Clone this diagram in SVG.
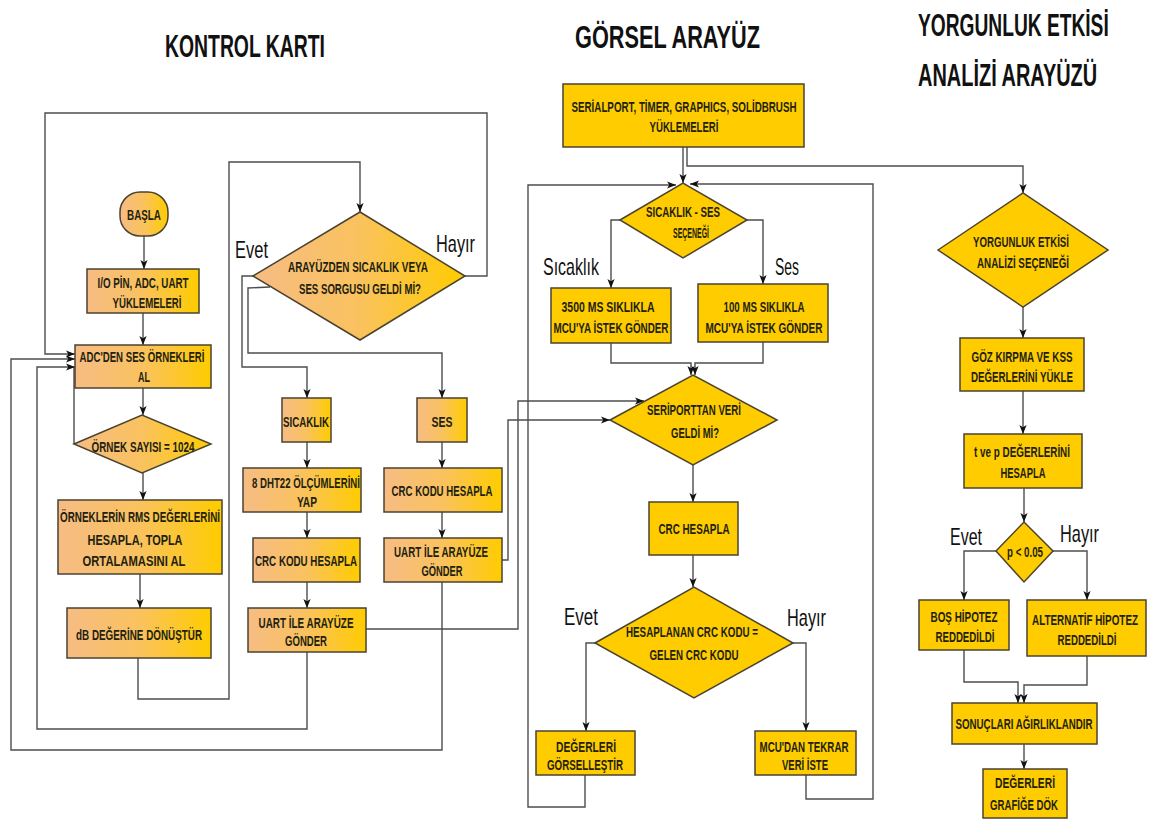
<svg xmlns="http://www.w3.org/2000/svg" width="1153" height="821" viewBox="0 0 1153 821">
<defs>
<linearGradient id="gL" x1="0" y1="0" x2="1" y2="0">
<stop offset="0" stop-color="#F6BC84"/>
<stop offset="0.5" stop-color="#FAC25E"/>
<stop offset="1" stop-color="#FFCC00"/>
</linearGradient>
<marker id="ah" viewBox="0 0 10 10" refX="10" refY="5" markerWidth="9" markerHeight="9" markerUnits="userSpaceOnUse" orient="auto">
<path d="M0,1 L10,5 L0,9 L2.5,5 z" fill="#111"/>
</marker>
<style>
.g{fill:url(#gL);stroke:#4a4330;stroke-width:1.5}
.y{fill:#FFCC00;stroke:#4a4330;stroke-width:1.5}
.t{font-family:"Liberation Sans",Arial,sans-serif;font-weight:bold;font-size:15.5px;fill:#231f10;text-anchor:middle}
.c{fill:none;stroke:#4d4d4d;stroke-width:1.4}
.a{marker-end:url(#ah)}
.lb{font-family:"Liberation Sans",Arial,sans-serif;font-size:23px;fill:#111}
.tt{font-family:"Liberation Sans",Arial,sans-serif;font-weight:bold;font-size:31px;fill:#111}
</style>
</defs>
<rect width="1153" height="821" fill="#fff"/>

<g id="titles">
<text class="tt" transform="translate(165,57) scale(0.64,1)" textLength="250" lengthAdjust="spacingAndGlyphs">KONTROL KARTI</text>
<text class="tt" transform="translate(575,48) scale(0.64,1)" textLength="289" lengthAdjust="spacingAndGlyphs">GÖRSEL ARAYÜZ</text>
<text class="tt" transform="translate(918,36) scale(0.64,1)" textLength="298" lengthAdjust="spacingAndGlyphs">YORGUNLUK ETKİSİ</text>
<text class="tt" transform="translate(918,86) scale(0.64,1)" textLength="280" lengthAdjust="spacingAndGlyphs">ANALİZİ ARAYÜZÜ</text>
</g>

<g id="connectors">
<polyline class="c a" points="144,236 144,269"/>
<polyline class="c a" points="143,313 143,345"/>
<polyline class="c a" points="143,388 143,415"/>
<polyline class="c a" points="143,473 143,500"/>
<polyline class="c a" points="140,574 140,608"/>
<polyline class="c a" points="138,658 138,699 229,699 229,162 360,162 360,212"/>
<polyline class="c" points="74,444 74,367"/>
<polyline class="c a" points="465,276 487,276 487,113 45,113 45,354 75,354"/>
<polyline class="c a" points="253,276 242,276 242,367 307,367 307,398"/>
<polyline class="c a" points="270,287 248,288 248,353 442,353 442,398"/>
<polyline class="c a" points="307,442 307,468"/>
<polyline class="c a" points="307,512 307,538"/>
<polyline class="c a" points="307,582 307,608"/>
<polyline class="c a" points="442,442 442,468"/>
<polyline class="c a" points="442,512 442,538"/>
<polyline class="c a" points="307,652 307,729 37,729 37,367 75,367"/>
<polyline class="c a" points="442,582 442,750 11,750 11,359 75,359"/>
<polyline class="c a" points="366,629 518,629 518,401 644,401"/>
<polyline class="c a" points="502,560 508,560 508,420 610,420"/>
<polyline class="c a" points="683,147 683,183"/>
<polyline class="c a" points="687,147 687,166 1023,166 1023,193"/>
<polyline class="c a" points="620,220 611,220 611,288"/>
<polyline class="c a" points="747,220 763,220 763,284"/>
<polyline class="c a" points="611,343 611,363 691,363 691,375"/>
<polyline class="c a" points="763,342 763,363 695,363 695,375"/>
<polyline class="c a" points="693,465 693,502"/>
<polyline class="c a" points="693,555 693,587"/>
<polyline class="c a" points="595,643 586,643 586,731"/>
<polyline class="c a" points="793,643 806,643 806,731"/>
<polyline class="c a" points="585,775 585,807 528,807 528,185 676,185"/>
<polyline class="c a" points="806,775 806,799 873,799 873,184 690,184"/>
<polyline class="c a" points="1023,307 1023,338"/>
<polyline class="c a" points="1023,391 1023,434"/>
<polyline class="c a" points="1024,488 1024,522"/>
<polyline class="c a" points="996,551 964,551 964,600"/>
<polyline class="c a" points="1053,551 1087,551 1087,600"/>
<polyline class="c a" points="964,650 964,682 1018,682 1018,703"/>
<polyline class="c a" points="1087,656 1087,685 1024,685 1024,703"/>
<polyline class="c a" points="1024,744 1024,769"/>
</g>

<g id="n_basla"><rect class="g" x="120" y="192" width="48" height="44" rx="20"/>
<text class="t" transform="translate(144,220) scale(0.66,1)" textLength="51.5" lengthAdjust="spacingAndGlyphs">BAŞLA</text></g>
<g id="n_io"><rect class="g" x="87" y="269" width="112" height="44"/>
<text class="t" transform="translate(143,288) scale(0.66,1)" textLength="137.9" lengthAdjust="spacingAndGlyphs">I/O PİN, ADC, UART</text>
<text class="t" transform="translate(147,308) scale(0.66,1)" textLength="104.5" lengthAdjust="spacingAndGlyphs">YÜKLEMELERİ</text></g>
<g id="n_adc"><rect class="g" x="75" y="345" width="136" height="43"/>
<text class="t" transform="translate(142,362) scale(0.66,1)" textLength="189.4" lengthAdjust="spacingAndGlyphs">ADC'DEN SES ÖRNEKLERİ</text>
<text class="t" transform="translate(144,382) scale(0.66,1)" textLength="18.2" lengthAdjust="spacingAndGlyphs">AL</text></g>
<g id="n_ornek"><polygon class="g" points="74,444 142,415 211,444 142,473"/>
<text class="t" transform="translate(143,452) scale(0.66,1)" textLength="156" lengthAdjust="spacingAndGlyphs">ÖRNEK SAYISI = 1024</text></g>
<g id="n_rms"><rect class="g" x="58" y="500" width="164" height="74"/>
<text class="t" transform="translate(140,522) scale(0.66,1)" textLength="242.4" lengthAdjust="spacingAndGlyphs">ÖRNEKLERİN RMS DEĞERLERİNİ</text>
<text class="t" transform="translate(135,545) scale(0.66,1)" textLength="143.9" lengthAdjust="spacingAndGlyphs">HESAPLA, TOPLA</text>
<text class="t" transform="translate(134,566) scale(0.66,1)" textLength="156" lengthAdjust="spacingAndGlyphs">ORTALAMASINI AL</text></g>
<g id="n_db"><rect class="g" x="67" y="608" width="144" height="50"/>
<text class="t" transform="translate(139,640) scale(0.66,1)" textLength="190.9" lengthAdjust="spacingAndGlyphs">dB DEĞERİNE DÖNÜŞTÜR</text></g>

<g id="n_sorgu"><polygon class="g" points="253,276 360,212 465,276 360,340"/>
<text class="t" transform="translate(358,272) scale(0.66,1)" textLength="212.1" lengthAdjust="spacingAndGlyphs">ARAYÜZDEN SICAKLIK VEYA</text>
<text class="t" transform="translate(360,294) scale(0.66,1)" textLength="184.8" lengthAdjust="spacingAndGlyphs">SES SORGUSU GELDİ Mİ?</text></g>
<g id="l_evet1"><text class="lb" transform="translate(235,258) scale(0.72,1)" textLength="45.8" lengthAdjust="spacingAndGlyphs">Evet</text></g>
<g id="l_hayir1"><text class="lb" transform="translate(436,252) scale(0.72,1)" textLength="54.2" lengthAdjust="spacingAndGlyphs">Hayır</text></g>
<g id="n_sic"><rect class="g" x="282" y="398" width="49" height="44"/>
<text class="t" transform="translate(306,427) scale(0.66,1)" textLength="69.7" lengthAdjust="spacingAndGlyphs">SICAKLIK</text></g>
<g id="n_ses"><rect class="g" x="417" y="398" width="50" height="44"/>
<text class="t" transform="translate(442,427) scale(0.66,1)" textLength="31.8" lengthAdjust="spacingAndGlyphs">SES</text></g>
<g id="n_dht"><rect class="g" x="243" y="468" width="118" height="44"/>
<text class="t" transform="translate(306,488) scale(0.66,1)" textLength="163.6" lengthAdjust="spacingAndGlyphs">8 DHT22 ÖLÇÜMLERİNİ</text>
<text class="t" transform="translate(307,507) scale(0.66,1)" textLength="30.3" lengthAdjust="spacingAndGlyphs">YAP</text></g>
<g id="n_crc1"><rect class="g" x="253" y="538" width="107" height="44"/>
<text class="t" transform="translate(306,566) scale(0.66,1)" textLength="154.5" lengthAdjust="spacingAndGlyphs">CRC KODU HESAPLA</text></g>
<g id="n_uart1"><rect class="g" x="248" y="608" width="118" height="44"/>
<text class="t" transform="translate(306,628) scale(0.66,1)" textLength="143.9" lengthAdjust="spacingAndGlyphs">UART İLE ARAYÜZE</text>
<text class="t" transform="translate(306,646) scale(0.66,1)" textLength="63.6" lengthAdjust="spacingAndGlyphs">GÖNDER</text></g>
<g id="n_crc2"><rect class="g" x="384" y="468" width="118" height="44"/>
<text class="t" transform="translate(442,496) scale(0.66,1)" textLength="153" lengthAdjust="spacingAndGlyphs">CRC KODU HESAPLA</text></g>
<g id="n_uart2"><rect class="g" x="384" y="538" width="118" height="44"/>
<text class="t" transform="translate(441,557) scale(0.66,1)" textLength="142.4" lengthAdjust="spacingAndGlyphs">UART İLE ARAYÜZE</text>
<text class="t" transform="translate(442,576) scale(0.66,1)" textLength="62.1" lengthAdjust="spacingAndGlyphs">GÖNDER</text></g>

<g id="n_serial"><rect class="y" x="563" y="84" width="241" height="63"/>
<text class="t" transform="translate(684,112) scale(0.66,1)" textLength="340.9" lengthAdjust="spacingAndGlyphs">SERİALPORT, TİMER, GRAPHICS, SOLİDBRUSH</text>
<text class="t" transform="translate(684,132) scale(0.66,1)" textLength="104.5" lengthAdjust="spacingAndGlyphs">YÜKLEMELERİ</text></g>
<g id="n_secim"><polygon class="y" points="620,220 683,183 747,220 683,258"/>
<text class="t" transform="translate(683,217) scale(0.66,1)" textLength="112.1" lengthAdjust="spacingAndGlyphs">SICAKLIK - SES</text>
<text class="t" transform="translate(691,238) scale(0.66,1)" textLength="54.5" lengthAdjust="spacingAndGlyphs">SEÇENEĞİ</text></g>
<g id="l_sicaklik"><text class="lb" transform="translate(543,275) scale(0.72,1)" textLength="77.8" lengthAdjust="spacingAndGlyphs">Sıcaklık</text></g>
<g id="l_ses"><text class="lb" transform="translate(775,275) scale(0.72,1)" textLength="33.3" lengthAdjust="spacingAndGlyphs">Ses</text></g>
<g id="n_3500"><rect class="y" x="551" y="288" width="120" height="55"/>
<text class="t" transform="translate(608,312) scale(0.66,1)" textLength="140.9" lengthAdjust="spacingAndGlyphs">3500 MS SIKLIKLA</text>
<text class="t" transform="translate(611,333) scale(0.66,1)" textLength="174.2" lengthAdjust="spacingAndGlyphs">MCU'YA İSTEK GÖNDER</text></g>
<g id="n_100"><rect class="y" x="698" y="284" width="130" height="58"/>
<text class="t" transform="translate(764,312) scale(0.66,1)" textLength="122.7" lengthAdjust="spacingAndGlyphs">100 MS SIKLIKLA</text>
<text class="t" transform="translate(764,333) scale(0.66,1)" textLength="177.3" lengthAdjust="spacingAndGlyphs">MCU'YA İSTEK GÖNDER</text></g>
<g id="n_seri"><polygon class="y" points="610,420 693,375 777,420 693,465"/>
<text class="t" transform="translate(694,415) scale(0.66,1)" textLength="142.4" lengthAdjust="spacingAndGlyphs">SERİPORTTAN VERİ</text>
<text class="t" transform="translate(695,438) scale(0.66,1)" textLength="72.7" lengthAdjust="spacingAndGlyphs">GELDİ Mİ?</text></g>
<g id="n_crch"><rect class="y" x="649" y="502" width="89" height="53"/>
<text class="t" transform="translate(694,534) scale(0.66,1)" textLength="107.6" lengthAdjust="spacingAndGlyphs">CRC HESAPLA</text></g>
<g id="n_hesap"><polygon class="y" points="595,643 694,587 793,643 694,698"/>
<text class="t" transform="translate(692,637) scale(0.66,1)" textLength="200" lengthAdjust="spacingAndGlyphs">HESAPLANAN CRC KODU =</text>
<text class="t" transform="translate(694,660) scale(0.66,1)" textLength="134.8" lengthAdjust="spacingAndGlyphs">GELEN CRC KODU</text></g>
<g id="l_evet2"><text class="lb" transform="translate(564,625) scale(0.72,1)" textLength="47.2" lengthAdjust="spacingAndGlyphs">Evet</text></g>
<g id="l_hayir2"><text class="lb" transform="translate(787,626) scale(0.72,1)" textLength="54.2" lengthAdjust="spacingAndGlyphs">Hayır</text></g>
<g id="n_deg"><rect class="y" x="536" y="731" width="99" height="44"/>
<text class="t" transform="translate(586,752) scale(0.66,1)" textLength="90.9" lengthAdjust="spacingAndGlyphs">DEĞERLERİ</text>
<text class="t" transform="translate(585,770) scale(0.66,1)" textLength="115.1" lengthAdjust="spacingAndGlyphs">GÖRSELLEŞTİR</text></g>
<g id="n_mcu"><rect class="y" x="755" y="731" width="101" height="44"/>
<text class="t" transform="translate(804,752) scale(0.66,1)" textLength="134.8" lengthAdjust="spacingAndGlyphs">MCU'DAN TEKRAR</text>
<text class="t" transform="translate(805,770) scale(0.66,1)" textLength="69.7" lengthAdjust="spacingAndGlyphs">VERİ İSTE</text></g>

<g id="n_yorg"><polygon class="y" points="938,250 1023,193 1108,250 1023,307"/>
<text class="t" transform="translate(1021,247) scale(0.66,1)" textLength="145.4" lengthAdjust="spacingAndGlyphs">YORGUNLUK ETKİSİ</text>
<text class="t" transform="translate(1023,268) scale(0.66,1)" textLength="139.4" lengthAdjust="spacingAndGlyphs">ANALİZİ SEÇENEĞİ</text></g>
<g id="n_goz"><rect class="y" x="960" y="338" width="124" height="53"/>
<text class="t" transform="translate(1022,362) scale(0.66,1)" textLength="153" lengthAdjust="spacingAndGlyphs">GÖZ KIRPMA VE KSS</text>
<text class="t" transform="translate(1022,382) scale(0.66,1)" textLength="154.5" lengthAdjust="spacingAndGlyphs">DEĞERLERİNİ YÜKLE</text></g>
<g id="n_tp"><rect class="y" x="964" y="434" width="118" height="54"/>
<text class="t" transform="translate(1022,457) scale(0.66,1)" textLength="145.4" lengthAdjust="spacingAndGlyphs">t ve p DEĞERLERİNİ</text>
<text class="t" transform="translate(1023,478) scale(0.66,1)" textLength="68.2" lengthAdjust="spacingAndGlyphs">HESAPLA</text></g>
<g id="n_p"><polygon class="y" points="996,551 1024,522 1053,551 1024,582"/>
<text class="t" transform="translate(1025,557) scale(0.66,1)" textLength="54.5" lengthAdjust="spacingAndGlyphs">p &lt; 0.05</text></g>
<g id="l_evet3"><text class="lb" transform="translate(950,545) scale(0.72,1)" textLength="44.4" lengthAdjust="spacingAndGlyphs">Evet</text></g>
<g id="l_hayir3"><text class="lb" transform="translate(1060,542) scale(0.72,1)" textLength="54.2" lengthAdjust="spacingAndGlyphs">Hayır</text></g>
<g id="n_bos"><rect class="y" x="919" y="600" width="90" height="50"/>
<text class="t" transform="translate(964,622) scale(0.66,1)" textLength="101.5" lengthAdjust="spacingAndGlyphs">BOŞ HİPOTEZ</text>
<text class="t" transform="translate(965,642) scale(0.66,1)" textLength="89.4" lengthAdjust="spacingAndGlyphs">REDDEDİLDİ</text></g>
<g id="n_alt"><rect class="y" x="1027" y="600" width="119" height="56"/>
<text class="t" transform="translate(1085,625) scale(0.66,1)" textLength="160.6" lengthAdjust="spacingAndGlyphs">ALTERNATİF HİPOTEZ</text>
<text class="t" transform="translate(1087,645) scale(0.66,1)" textLength="89.4" lengthAdjust="spacingAndGlyphs">REDDEDİLDİ</text></g>
<g id="n_son"><rect class="y" x="952" y="703" width="145" height="41"/>
<text class="t" transform="translate(1024,729) scale(0.66,1)" textLength="207.6" lengthAdjust="spacingAndGlyphs">SONUÇLARI AĞIRLIKLANDIR</text></g>
<g id="n_graf"><rect class="y" x="983" y="769" width="84" height="49"/>
<text class="t" transform="translate(1025,788) scale(0.66,1)" textLength="90.9" lengthAdjust="spacingAndGlyphs">DEĞERLERİ</text>
<text class="t" transform="translate(1024,810) scale(0.66,1)" textLength="103" lengthAdjust="spacingAndGlyphs">GRAFİĞE DÖK</text></g>
</svg>
